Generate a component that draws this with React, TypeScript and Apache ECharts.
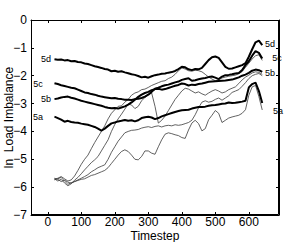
import React, { useEffect, useRef } from "react";
import * as echarts from "echarts";

const timesteps = [20,30,40,50,60,70,80,90,100,110,120,130,140,150,160,170,180,190,200,210,220,230,240,250,260,270,280,290,300,310,320,330,340,350,360,370,380,390,400,410,420,430,440,450,460,470,480,490,500,510,520,530,540,550,560,570,580,590,600,610,620,630,640];

const run5d = [-1.41,-1.43,-1.42,-1.45,-1.44,-1.48,-1.47,-1.51,-1.52,-1.56,-1.58,-1.62,-1.66,-1.69,-1.72,-1.76,-1.78,-1.84,-1.82,-1.86,-1.84,-1.88,-1.91,-1.95,-1.97,-2.01,-2.06,-2.04,-2.07,-2.02,-1.98,-1.96,-1.93,-1.92,-1.89,-1.87,-1.83,-1.76,-1.68,-1.70,-1.77,-1.80,-1.76,-1.77,-1.72,-1.58,-1.44,-1.34,-1.31,-1.36,-1.52,-1.68,-1.75,-1.74,-1.70,-1.66,-1.62,-1.55,-1.32,-1.05,-0.80,-0.74,-0.90];
const run5c = [-2.27,-2.30,-2.34,-2.37,-2.40,-2.43,-2.45,-2.50,-2.55,-2.60,-2.62,-2.66,-2.68,-2.72,-2.75,-2.77,-2.79,-2.81,-2.80,-2.83,-2.84,-2.86,-2.86,-2.87,-2.84,-2.83,-2.80,-2.75,-2.68,-2.58,-2.47,-2.43,-2.38,-2.34,-2.32,-2.28,-2.24,-2.21,-2.15,-2.12,-2.09,-2.18,-2.16,-2.13,-2.10,-2.08,-2.05,-2.03,-2.07,-2.12,-2.03,-1.98,-1.97,-1.95,-1.92,-1.90,-1.80,-1.62,-1.48,-1.28,-1.12,-1.18,-1.38];
const run5b = [-2.84,-2.82,-2.78,-2.76,-2.75,-2.79,-2.82,-2.86,-2.90,-2.93,-2.96,-2.99,-3.02,-3.05,-3.08,-3.12,-3.15,-3.17,-3.16,-3.18,-3.14,-3.10,-3.04,-2.96,-2.86,-2.76,-2.68,-2.62,-2.58,-2.52,-2.48,-2.47,-2.50,-2.48,-2.44,-2.40,-2.36,-2.33,-2.28,-2.30,-2.35,-2.32,-2.33,-2.30,-2.28,-2.25,-2.22,-2.21,-2.20,-2.19,-2.18,-2.17,-2.15,-2.14,-2.10,-2.06,-2.00,-1.96,-1.90,-1.82,-1.78,-1.80,-1.86];
const run5a = [-3.47,-3.52,-3.58,-3.65,-3.62,-3.66,-3.68,-3.69,-3.72,-3.74,-3.76,-3.80,-3.84,-3.90,-3.97,-3.90,-3.80,-3.71,-3.68,-3.64,-3.62,-3.59,-3.62,-3.60,-3.64,-3.60,-3.52,-3.49,-3.47,-3.50,-3.56,-3.52,-3.46,-3.42,-3.38,-3.34,-3.30,-3.27,-3.24,-3.23,-3.22,-3.18,-3.15,-3.12,-3.12,-3.11,-3.08,-3.06,-3.05,-3.03,-3.01,-3.00,-2.96,-2.98,-2.97,-2.95,-2.93,-2.90,-2.42,-2.30,-2.25,-2.55,-2.98];

const thin1 = [-5.72,-5.68,-5.62,-5.70,-5.78,-5.74,-5.60,-5.40,-5.18,-5.00,-4.85,-4.62,-4.40,-4.20,-4.00,-3.80,-3.55,-3.35,-3.22,-3.10,-3.08,-2.95,-2.85,-2.70,-2.62,-2.58,-2.50,-2.48,-2.42,-2.35,-2.30,-2.25,-2.20,-2.18,-2.10,-2.05,-1.95,-1.82,-1.72,-1.76,-1.82,-1.84,-1.80,-1.82,-1.86,-1.95,-2.05,-2.12,-2.18,-2.15,-2.08,-2.05,-2.02,-2.00,-1.98,-1.93,-1.85,-1.70,-1.55,-1.40,-1.28,-1.25,-1.45];
const thin2 = [-5.70,-5.78,-5.72,-5.85,-5.95,-5.88,-5.75,-5.65,-5.52,-5.38,-5.25,-5.12,-5.02,-4.90,-4.70,-4.50,-4.30,-4.00,-3.75,-3.55,-3.38,-3.20,-3.02,-3.05,-3.18,-3.10,-2.90,-2.78,-2.68,-2.62,-3.10,-3.70,-3.60,-3.45,-3.25,-3.05,-2.85,-2.70,-2.55,-2.45,-2.48,-2.55,-2.62,-2.58,-2.65,-2.70,-2.62,-2.55,-2.50,-2.55,-2.62,-2.58,-2.50,-2.45,-2.40,-2.28,-2.15,-2.05,-1.98,-1.90,-1.86,-1.88,-1.95];
const thin3 = [-5.68,-5.72,-5.80,-5.75,-5.82,-5.86,-5.80,-5.74,-5.68,-5.62,-5.55,-5.45,-5.38,-5.30,-5.25,-5.20,-5.00,-4.75,-4.55,-4.35,-4.20,-4.05,-4.00,-3.96,-3.95,-3.93,-3.88,-3.85,-3.83,-3.86,-3.82,-3.80,-3.84,-3.80,-3.78,-3.80,-3.76,-3.78,-3.76,-3.72,-3.68,-3.60,-3.40,-3.15,-2.95,-2.90,-2.95,-2.92,-2.85,-2.80,-2.88,-2.80,-2.72,-2.60,-2.55,-2.50,-2.38,-2.25,-2.10,-2.00,-1.95,-1.92,-2.00];
const thin4 = [-5.74,-5.70,-5.65,-5.78,-5.90,-5.84,-5.80,-5.76,-5.72,-5.70,-5.64,-5.58,-5.55,-5.50,-5.45,-5.40,-5.30,-5.15,-5.00,-4.85,-4.72,-4.66,-4.72,-4.85,-5.00,-5.02,-4.90,-4.70,-4.70,-4.78,-4.82,-4.55,-4.30,-4.10,-4.05,-4.08,-4.12,-4.15,-4.22,-4.25,-3.95,-3.70,-3.60,-3.72,-3.98,-3.90,-3.58,-3.42,-3.25,-3.35,-3.68,-3.60,-3.52,-3.48,-3.45,-3.42,-3.35,-3.22,-2.70,-2.40,-2.35,-2.75,-3.23];

const xTickValues = [0, 100, 200, 300, 400, 500, 600];
const runNames = ["5d", "5c", "5b", "5a"];

const FONT = "'Liberation Sans', Arial, Helvetica, sans-serif";

const GRID = { left: 31, right: 7, top: 20, bottom: 27 };
const W = 286;
const H = 242;

export default function App() {
  const ref = useRef<HTMLDivElement>(null);
  useEffect(() => {
    if (!ref.current) return;
    const chart = echarts.init(ref.current, undefined, { renderer: "svg" });
    const toData = (vals: number[]) => timesteps.map((t, i) => [t, vals[i]]);
    const thinSeries = [thin1, thin2, thin3, thin4].map((v) => ({
      type: "line",
      data: toData(v),
      showSymbol: false,
      symbol: "none",
      lineStyle: { color: "#3a3a3a", width: 0.8 },
      xAxisIndex: 0,
      yAxisIndex: 0,
      z: 2,
    }));
    const thickSeries = [run5d, run5c, run5b, run5a].map((v, i) => ({
      type: "line",
      name: runNames[i],
      data: toData(v),
      showSymbol: false,
      symbol: "none",
      lineStyle: { color: "#000", width: 2 },
      xAxisIndex: 0,
      yAxisIndex: 0,
      z: 3,
    }));
    const labelStyle = { fontFamily: FONT, fontSize: 9, fill: "#000" };
    const leftLabels = [
      { t: "5d", x: 46, y: 59 },
      { t: "5c", x: 38, y: 84 },
      { t: "5b", x: 46, y: 99 },
      { t: "5a", x: 38, y: 117 },
    ];
    const rightLabels = [
      { t: "5d", x: 270, y: 44 },
      { t: "5c", x: 277, y: 58 },
      { t: "5b", x: 270, y: 73 },
      { t: "5a", x: 278, y: 111 },
    ];
    const graphics: any[] = [...leftLabels, ...rightLabels].map((l) => ({
      type: "text",
      x: l.x,
      y: l.y,
      z: 10,
      style: { ...labelStyle, text: l.t, textAlign: "center", textVerticalAlign: "middle" },
    }));
    graphics.push({
      type: "rect",
      z: 20,
      silent: true,
      shape: {
        x: GRID.left + 0.5,
        y: GRID.top + 0.5,
        width: W - GRID.left - GRID.right - 1,
        height: H - GRID.top - GRID.bottom - 1,
      },
      style: { fill: "none", stroke: "#000", lineWidth: 1 },
    });
    const axisLineOpt = () => ({ show: true, onZero: false, lineStyle: { color: "#000", width: 1 } });
    const labelCommon = { color: "#000", fontFamily: FONT, fontSize: 12 };
    chart.setOption({
      animation: false,
      backgroundColor: "#fff",
      grid: {
        ...GRID,
        containLabel: false,
        outerBoundsMode: "none",
      },
      xAxis: [
        {
          type: "value",
          min: -50,
          max: 690,
          position: "bottom",
          axisLine: axisLineOpt(),
          axisTick: { show: true, inside: true, length: 3, customValues: xTickValues, lineStyle: { color: "#000" } },
          axisLabel: { ...labelCommon, margin: 1, lineHeight: 12, customValues: xTickValues },
          splitLine: { show: false },
          name: "Timestep",
          nameLocation: "middle",
          nameGap: 15,
          nameMoveOverlap: false,
          nameTextStyle: { ...labelCommon, lineHeight: 12, verticalAlign: "top" },
        },
        {
          type: "value",
          min: -50,
          max: 690,
          position: "top",
          axisLine: axisLineOpt(),
          axisTick: { show: true, inside: true, length: 3, customValues: xTickValues, lineStyle: { color: "#000" } },
          axisLabel: { show: false },
          splitLine: { show: false },
        },
      ],
      yAxis: [
        {
          type: "value",
          min: -7,
          max: 0,
          interval: 1,
          position: "left",
          axisLine: axisLineOpt(),
          axisTick: { show: true, inside: true, length: 3, lineStyle: { color: "#000" } },
          axisLabel: {
            ...labelCommon,
            margin: 4,
            formatter: (v: number) => String(v).replace("-", "\u2212"),
          },
          splitLine: { show: false },
          name: "ln  Load Imbalance",
          nameLocation: "middle",
          nameGap: 16,
          nameMoveOverlap: false,
          nameTextStyle: { ...labelCommon },
        },
        {
          type: "value",
          min: -7,
          max: 0,
          interval: 1,
          position: "right",
          axisLine: axisLineOpt(),
          axisTick: { show: true, inside: true, length: 3, lineStyle: { color: "#000" } },
          axisLabel: { show: false },
          splitLine: { show: false },
        },
      ],
      series: [...thinSeries, ...thickSeries],
      graphic: graphics,
    });
    return () => chart.dispose();
  }, []);
  return <div ref={ref} style={{ width: W, height: H, position: "absolute", left: 0, top: 0 }} />;
}
